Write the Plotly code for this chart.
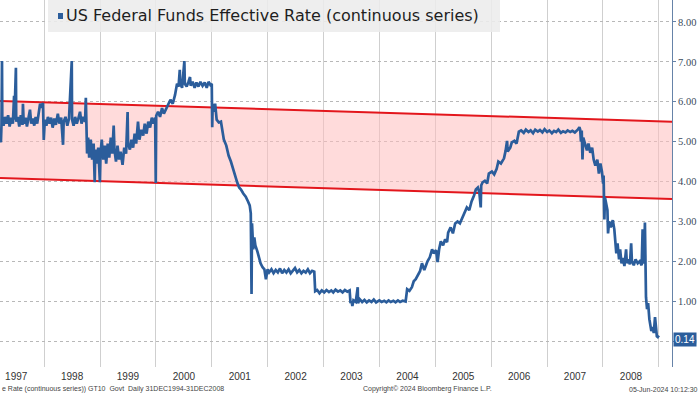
import plotly.graph_objects as go

# ---------------- data ----------------
dates = [
    "1997-03-18", "1997-03-24", "1997-03-28", "1997-03-31", "1997-04-02", "1997-04-10", "1997-04-20",
    "1997-04-30", "1997-05-10", "1997-05-20", "1997-05-30", "1997-06-10", "1997-06-18", "1997-06-20",
    "1997-06-30", "1997-07-02", "1997-07-12", "1997-07-22", "1997-08-01", "1997-08-12", "1997-08-15",
    "1997-08-20", "1997-09-01", "1997-09-10", "1997-09-20", "1997-09-30", "1997-10-08", "1997-10-18",
    "1997-10-28", "1997-11-06", "1997-11-16", "1997-11-26", "1997-12-05", "1997-12-15", "1997-12-24",
    "1997-12-29", "1998-01-05", "1998-01-15", "1998-01-25", "1998-02-05", "1998-02-15", "1998-02-25",
    "1998-03-08", "1998-03-18", "1998-03-31", "1998-04-10", "1998-04-22", "1998-05-04", "1998-05-08",
    "1998-05-20", "1998-06-01", "1998-06-12", "1998-06-30", "1998-07-02", "1998-07-12", "1998-07-22",
    "1998-08-02", "1998-08-12", "1998-08-23", "1998-09-02", "1998-09-12", "1998-09-25", "1998-09-30",
    "1998-10-08", "1998-10-15", "1998-10-22", "1998-11-01", "1998-11-10", "1998-11-20", "1998-11-27",
    "1998-12-01", "1998-12-10", "1998-12-20", "1998-12-31", "1999-01-04", "1999-01-12", "1999-01-22",
    "1999-02-01", "1999-02-10", "1999-02-20", "1999-03-02", "1999-03-12", "1999-03-22", "1999-03-31",
    "1999-04-05", "1999-04-15", "1999-04-25", "1999-05-05", "1999-05-15", "1999-05-28", "1999-06-08",
    "1999-06-20", "1999-06-30", "1999-07-03", "1999-07-15", "1999-07-25", "1999-08-05", "1999-08-15",
    "1999-08-25", "1999-09-06", "1999-09-15", "1999-09-28", "1999-10-10", "1999-10-20", "1999-11-01",
    "1999-11-12", "1999-11-24", "1999-12-05", "1999-12-15", "1999-12-27", "1999-12-31", "2000-01-03",
    "2000-01-15", "2000-01-28", "2000-02-10", "2000-02-22", "2000-03-05", "2000-03-25", "2000-04-05",
    "2000-04-20", "2000-05-05", "2000-05-18", "2000-05-28", "2000-06-05", "2000-06-08", "2000-06-20",
    "2000-07-05", "2000-07-08", "2000-07-20", "2000-08-01", "2000-08-11", "2000-08-15", "2000-08-28",
    "2000-09-10", "2000-09-22", "2000-10-05", "2000-10-18", "2000-11-01", "2000-11-15", "2000-11-28",
    "2000-12-10", "2000-12-22", "2000-12-31", "2001-01-03", "2001-01-06", "2001-01-12", "2001-01-22",
    "2001-02-01", "2001-02-15", "2001-03-01", "2001-03-20", "2001-04-05", "2001-04-20", "2001-05-05",
    "2001-05-20", "2001-06-02", "2001-06-15", "2001-06-28", "2001-07-10", "2001-07-25", "2001-08-10",
    "2001-08-25", "2001-09-05", "2001-09-12", "2001-09-17", "2001-09-20", "2001-09-28", "2001-10-05",
    "2001-10-12", "2001-10-25", "2001-11-05", "2001-11-15", "2001-11-28", "2001-12-10", "2001-12-20",
    "2001-12-31", "2002-01-10", "2002-01-25", "2002-02-08", "2002-02-22", "2002-03-08", "2002-03-22",
    "2002-04-05", "2002-04-19", "2002-05-03", "2002-05-17", "2002-05-31", "2002-06-14", "2002-06-28",
    "2002-07-12", "2002-07-26", "2002-08-09", "2002-08-23", "2002-09-06", "2002-09-20", "2002-10-04",
    "2002-10-18", "2002-11-01", "2002-11-07", "2002-11-20", "2002-12-05", "2002-12-20", "2003-01-05",
    "2003-01-20", "2003-02-05", "2003-02-20", "2003-03-05", "2003-03-20", "2003-04-05", "2003-04-20",
    "2003-05-05", "2003-05-20", "2003-06-05", "2003-06-20", "2003-06-26", "2003-07-03", "2003-07-08",
    "2003-07-15", "2003-07-30", "2003-08-12", "2003-08-14", "2003-08-25", "2003-09-10", "2003-09-25",
    "2003-10-10", "2003-10-25", "2003-11-10", "2003-11-25", "2003-12-10", "2003-12-31", "2004-01-15",
    "2004-02-01", "2004-02-15", "2004-03-01", "2004-03-15", "2004-04-01", "2004-04-15", "2004-05-01",
    "2004-05-15", "2004-06-01", "2004-06-20", "2004-06-30", "2004-07-15", "2004-07-31", "2004-08-12",
    "2004-08-25", "2004-09-22", "2004-10-05", "2004-10-20", "2004-11-10", "2004-11-25", "2004-12-10",
    "2004-12-20", "2005-01-05", "2005-01-15", "2005-01-25", "2005-02-05", "2005-02-20", "2005-03-05",
    "2005-03-18", "2005-03-25", "2005-04-10", "2005-04-25", "2005-05-10", "2005-05-25", "2005-06-10",
    "2005-06-25", "2005-07-10", "2005-07-25", "2005-08-10", "2005-08-25", "2005-09-10", "2005-09-22",
    "2005-10-05", "2005-10-15", "2005-10-24", "2005-10-27", "2005-11-05", "2005-11-20", "2005-12-05",
    "2005-12-16", "2006-01-05", "2006-01-20", "2006-02-05", "2006-02-16", "2006-03-05", "2006-03-25",
    "2006-04-05", "2006-04-14", "2006-04-18", "2006-05-05", "2006-05-15", "2006-06-01", "2006-06-15",
    "2006-06-30", "2006-07-15", "2006-08-01", "2006-08-15", "2006-09-01", "2006-09-15", "2006-10-01",
    "2006-10-15", "2006-11-01", "2006-11-15", "2006-12-01", "2006-12-15", "2007-01-01", "2007-01-15",
    "2007-02-01", "2007-02-15", "2007-03-01", "2007-03-15", "2007-04-01", "2007-04-15", "2007-05-01",
    "2007-05-15", "2007-06-01", "2007-06-15", "2007-07-01", "2007-07-20", "2007-07-31", "2007-08-05",
    "2007-08-10", "2007-08-15", "2007-08-20", "2007-08-25", "2007-09-05", "2007-09-18", "2007-09-28",
    "2007-10-10", "2007-10-22", "2007-11-01", "2007-11-12", "2007-11-25", "2007-12-05", "2007-12-15",
    "2007-12-25", "2008-01-02", "2008-01-05", "2008-01-10", "2008-01-14", "2008-01-22", "2008-01-30",
    "2008-02-03", "2008-02-10", "2008-02-20", "2008-03-05", "2008-03-15", "2008-03-20", "2008-03-28",
    "2008-04-05", "2008-04-15", "2008-04-22", "2008-05-01", "2008-05-10", "2008-05-20", "2008-05-31",
    "2008-06-05", "2008-06-15", "2008-06-25", "2008-07-03", "2008-07-08", "2008-07-20", "2008-08-01",
    "2008-08-15", "2008-08-28", "2008-09-10", "2008-09-16", "2008-09-19", "2008-09-25", "2008-10-01",
    "2008-10-03", "2008-10-08", "2008-10-15", "2008-10-22", "2008-10-30", "2008-11-05", "2008-11-12",
    "2008-11-20", "2008-11-28", "2008-12-06", "2008-12-12", "2008-12-18", "2008-12-24", "2008-12-31",
]
rates = [
    5.30, 4.98, 5.45, 7.02, 5.55, 5.40, 5.62,
    5.45, 5.66, 5.38, 5.60, 5.45, 6.15, 5.55,
    6.85, 5.50, 5.62, 5.38, 5.66, 5.42, 5.95,
    5.45, 5.60, 5.38, 5.62, 5.80, 5.45, 5.58,
    5.40, 5.62, 5.45, 5.70, 5.95, 5.85, 5.97,
    5.04, 5.55, 5.40, 5.62, 5.45, 5.60, 5.35,
    5.58, 5.42, 5.70, 5.45, 5.60, 4.92, 5.50,
    5.62, 5.40, 5.58, 7.02, 5.55, 5.40, 5.62,
    5.45, 5.58, 5.75, 5.45, 5.62, 5.50, 6.10,
    4.70, 5.10, 4.60, 5.05, 4.55, 4.95, 3.98,
    4.80, 4.45, 4.85, 3.98, 4.70, 5.05, 4.55,
    4.90, 4.45, 4.95, 4.60, 5.10, 4.70, 5.40,
    4.80, 4.50, 4.90, 4.55, 4.75, 4.42, 4.85,
    4.70, 5.74, 4.95, 4.80, 5.05, 4.85, 5.20,
    4.95, 5.50, 5.05, 5.30, 5.15, 5.45, 5.20,
    5.50, 5.35, 5.60, 5.45, 5.60, 3.96, 5.65,
    5.75, 5.62, 5.84, 5.70, 5.80, 5.95, 6.05,
    5.95, 6.17, 6.45, 6.38, 6.80, 6.45, 6.35,
    7.02, 6.45, 6.38, 6.50, 6.62, 6.40, 6.50,
    6.35, 6.48, 6.38, 6.50, 6.40, 6.48, 6.35,
    6.50, 6.42, 6.45, 5.36, 5.95, 5.75, 5.95,
    5.55, 5.48, 5.50, 5.05, 4.90, 4.65, 4.50,
    4.30, 4.10, 3.98, 3.85, 3.80, 3.70, 3.62,
    3.50, 3.40, 3.20, 1.18, 2.95, 2.30, 2.60,
    2.40, 2.25, 2.10, 1.95, 1.85, 1.80, 1.55,
    1.80, 1.72, 1.80, 1.70, 1.78, 1.72, 1.82,
    1.70, 1.78, 1.72, 1.80, 1.70, 1.76, 1.83,
    1.72, 1.78, 1.70, 1.76, 1.72, 1.80, 1.70,
    1.76, 1.74, 1.25, 1.28, 1.20, 1.27, 1.22,
    1.28, 1.23, 1.27, 1.22, 1.29, 1.24, 1.27,
    1.22, 1.28, 1.24, 1.27, 0.95, 1.00, 0.88,
    1.02, 0.98, 1.35, 0.95, 1.05, 0.98, 1.03,
    0.97, 1.02, 0.98, 1.04, 0.97, 1.02, 0.98,
    1.01, 0.97, 1.02, 0.98, 1.01, 0.97, 1.02,
    0.98, 1.01, 0.99, 1.30, 1.26, 1.35, 1.50,
    1.55, 1.75, 1.95, 1.78, 2.00, 2.10, 2.30,
    2.20, 2.28, 1.98, 2.30, 2.50, 2.40, 2.55,
    2.48, 2.72, 2.85, 2.70, 2.95, 3.00, 2.95,
    3.10, 3.25, 3.35, 3.28, 3.50, 3.65, 3.80,
    3.85, 3.72, 3.35, 3.90, 3.98, 4.02, 3.95,
    4.20, 4.25, 4.18, 4.32, 4.50, 4.45, 4.58,
    4.78, 5.02, 4.75, 4.85, 4.98, 5.02, 4.95,
    5.25, 5.28, 5.22, 5.30, 5.24, 5.28, 5.21,
    5.30, 5.25, 5.29, 5.23, 5.31, 5.24, 5.28,
    5.21, 5.27, 5.24, 5.30, 5.22, 5.26, 5.23,
    5.28, 5.24, 5.27, 5.23, 5.30, 5.36, 5.30,
    5.00, 5.28, 4.55, 5.10, 4.95, 4.78, 4.95,
    4.72, 4.85, 4.55, 4.40, 4.55, 4.20, 4.45,
    4.25, 3.95, 4.15, 3.05, 3.60, 3.40, 3.28,
    2.70, 3.00, 2.85, 3.03, 2.80, 2.50, 2.20,
    2.45, 2.05, 2.30, 1.95, 2.08, 1.88, 2.30,
    1.95, 2.05, 1.92, 2.45, 2.00, 1.90, 2.05,
    1.95, 2.00, 1.90, 2.80, 1.95, 2.00, 2.97,
    1.60, 1.10, 0.80, 0.95, 0.55, 0.40, 0.25,
    0.35, 0.20, 0.60, 0.25, 0.12, 0.10, 0.14,
]

# red trend channel (two straight lines, end points)
channel_dates = ["1997-03-18", "2009-03-27"]
channel_upper = [6.02, 5.50]
channel_lower = [4.09, 3.56]

# axis labels
year_labels = ["1997", "1998", "1999", "2000", "2001", "2002",
               "2003", "2004", "2005", "2006", "2007", "2008"]
year_label_dates = [y + "-07-02" for y in year_labels]
year_grid_dates = [str(y) + "-01-01" for y in range(1998, 2010)]
x_range = ["1997-03-18", "2009-03-27"]
y_range = [-0.65, 8.55]

series_name = "US Federal Funds Effective Rate (continuous series)"
footer_left = "e Rate (continuous series)) GT10  Govt  Daily 31DEC1994-31DEC2008"
footer_mid = "Copyright\u00a9 2024 Bloomberg Finance L.P."
footer_right = "05-Jun-2024 10:12:30"

BLUE = "#2b5d9b"
RED = "#e3161c"

fig = go.Figure()

# channel fill + lines
fig.add_trace(go.Scatter(x=channel_dates, y=channel_lower, mode="lines",
                         line=dict(color=RED, width=2), hoverinfo="skip", showlegend=False))
fig.add_trace(go.Scatter(x=channel_dates, y=channel_upper, mode="lines",
                         line=dict(color=RED, width=2), fill="tonexty",
                         fillcolor="rgba(255,190,190,0.55)", hoverinfo="skip", showlegend=False))

# main series
fig.add_trace(go.Scatter(x=dates, y=rates, mode="lines", name=series_name,
                         line=dict(color=BLUE, width=2.7), showlegend=False))

fig.update_layout(
    width=700, height=394,
    margin=dict(l=0, r=28, t=0, b=27),
    paper_bgcolor="white", plot_bgcolor="white",
    showlegend=False,
    xaxis=dict(
        type="date", range=x_range,
        tickmode="array", tickvals=year_label_dates, ticktext=year_labels,
        showgrid=False, ticks="", zeroline=False, showline=False,
        tickfont=dict(family="Liberation Sans", size=10, color="#333333"),
        ticklabelstandoff=2,
        minor=dict(tickmode="array", tickvals=year_grid_dates, showgrid=True,
                   gridcolor="#cfcfcf", gridwidth=1, ticks=""),
    ),
    yaxis=dict(
        side="right", range=y_range, tickmode="linear", tick0=0, dtick=1,
        tickformat=".2f", showgrid=True, gridcolor="#b8b8b8", griddash="dot",
        gridwidth=1, zeroline=False, showline=True, linecolor="#6683a8",
        linewidth=1, ticks="outside", ticklen=3, tickcolor="#6683a8",
        ticklabelstandoff=0, automargin=False,
        tickfont=dict(family="Liberation Serif", size=10.5, color="#3b4a5c"),
    ),
    shapes=[
        dict(type="rect", xref="paper", yref="paper",
             x0=48 / 672, x1=500 / 672, y0=1 - 32 / 367, y1=1,
             fillcolor="rgba(236,236,236,0.88)", line=dict(width=0), layer="above"),
        dict(type="rect", xref="paper", yref="paper",
             x0=58 / 672, x1=63 / 672, y0=1 - 19 / 367, y1=1 - 13 / 367,
             fillcolor=BLUE, line=dict(width=0), layer="above"),
    ],
)

# title / legend text
fig.add_annotation(xref="paper", yref="paper", x=64 / 672, y=1 - 16 / 367,
                   xanchor="left", yanchor="middle", showarrow=False,
                   text=series_name,
                   font=dict(family="DejaVu Sans", size=16, color="#1e1e1e"))

# last value tag
fig.add_annotation(xref="paper", yref="y", x=1, y=rates[-1], xanchor="left",
                   yanchor="middle", xshift=1, yshift=-4, showarrow=False,
                   text=f"{rates[-1]:.2f}", bgcolor=BLUE, borderpad=1,
                   font=dict(family="Liberation Sans", size=10, color="white"))

# footer
foot_font = dict(family="Liberation Sans", size=7, color="#444444")
fig.add_annotation(xref="paper", yref="paper", x=0, y=-22 / 367, xanchor="left",
                   yanchor="middle", showarrow=False, text=footer_left, font=foot_font)
fig.add_annotation(xref="paper", yref="paper", x=361 / 672, y=-22 / 367, xanchor="left",
                   yanchor="middle", showarrow=False, text=footer_mid, font=foot_font)
fig.add_annotation(xref="paper", yref="paper", x=700 / 672, y=-22 / 367, xanchor="right",
                   yanchor="middle", showarrow=False, text=footer_right, font=foot_font)

fig.write_html("out.html", config={"displayModeBar": False},
               post_script="document.body.style.margin='0';document.body.style.padding='0';")
